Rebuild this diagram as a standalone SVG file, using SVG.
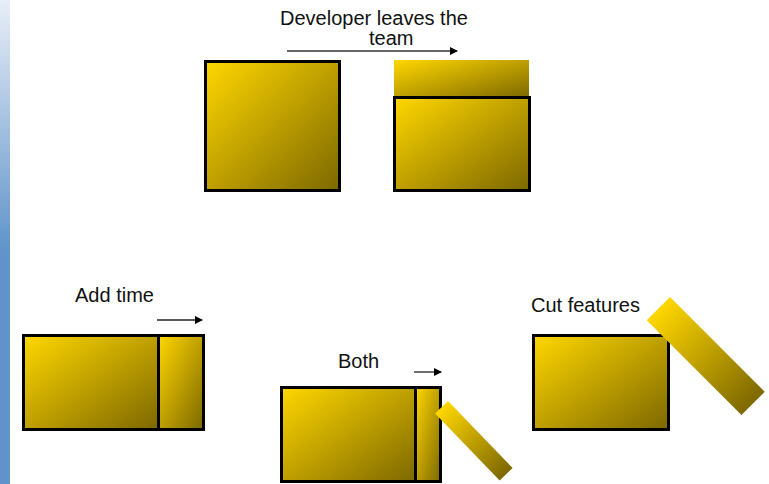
<svg xmlns="http://www.w3.org/2000/svg" width="769" height="484" viewBox="0 0 769 484">
<defs>
<linearGradient id="side" x1="0" y1="0" x2="0" y2="484" gradientUnits="userSpaceOnUse">
<stop offset="0" stop-color="#e9eef7"/>
<stop offset="0.52" stop-color="#5f93c9"/>
<stop offset="1" stop-color="#5f93c9"/>
</linearGradient>
<linearGradient id="gold" x1="0" y1="0" x2="1" y2="1">
<stop offset="0" stop-color="#ffd700"/>
<stop offset="1" stop-color="#7d6800"/>
</linearGradient>
<linearGradient id="goldbar" x1="0" y1="0" x2="1" y2="0">
<stop offset="0" stop-color="#ffd700"/>
<stop offset="1" stop-color="#7d6800"/>
</linearGradient>
<marker id="ah" markerWidth="8" markerHeight="8" refX="7" refY="4" orient="auto" markerUnits="userSpaceOnUse">
<path d="M0,0 L8,4 L0,8 Z" fill="#000"/>
</marker>
<style>
.box{fill:url(#gold);stroke:#000;stroke-width:3}
.fill{fill:url(#gold)}
.bar{fill:url(#goldbar)}
.lbl{font-family:"Liberation Sans",Arial,sans-serif;font-size:20px;fill:#111}
.arr{stroke:#222;stroke-width:1.3;fill:none;marker-end:url(#ah)}
.arrg{stroke:#666;stroke-width:2;fill:none;marker-end:url(#ah)}
</style>
</defs>
<rect x="0" y="0" width="769" height="484" fill="#fff"/>
<rect x="0" y="0" width="10" height="484" fill="url(#side)"/>

<g id="top-label">
<text class="lbl" x="280" y="25">Developer leaves the</text>
<text class="lbl" x="369" y="45">team</text>
</g>
<g id="connectors">
<line class="arrg" x1="287" y1="51" x2="457" y2="51"/>
<line class="arr" x1="157" y1="320" x2="202" y2="320"/>
<line class="arr" x1="414" y1="372" x2="441" y2="372"/>
</g>
<g id="before">
<rect class="box" x="205.5" y="61.5" width="134" height="129"/>
</g>
<g id="after">
<rect class="fill" x="394" y="60" width="135" height="38"/>
<rect class="box" x="394.5" y="97.5" width="135" height="93"/>
</g>

<g id="add-time">
<text class="lbl" x="75" y="302">Add time</text>
<rect class="box" x="23.5" y="335.5" width="135" height="94"/>
<rect class="box" x="158.5" y="335.5" width="45" height="94"/>
</g>

<g id="both">
<text class="lbl" x="338" y="368">Both</text>
<rect class="box" x="281.5" y="387.5" width="134" height="94"/>
<rect class="box" x="415.5" y="387.5" width="25" height="94"/>
<rect class="bar" x="0" y="0" width="93" height="18" transform="translate(448,401) rotate(46)"/>
</g>

<g id="cut-features">
<text class="lbl" x="531" y="312">Cut features</text>
<rect class="box" x="533.5" y="335.5" width="135" height="94"/>
<rect class="bar" x="0" y="0" width="134" height="33" transform="translate(670,297) rotate(45)"/>
</g>
</svg>
